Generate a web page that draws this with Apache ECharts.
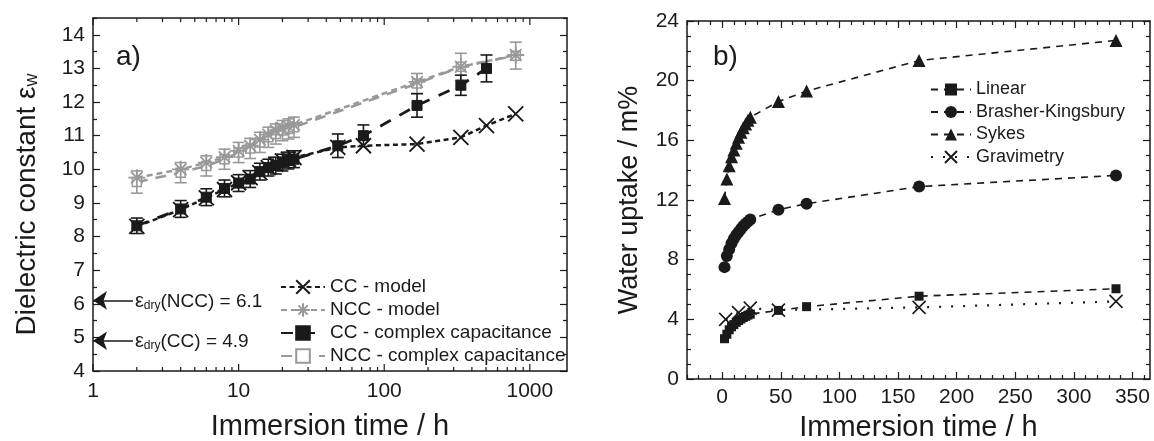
<!DOCTYPE html>
<html><head><meta charset="utf-8">
<script src="https://cdn.jsdelivr.net/npm/echarts@6/dist/echarts.min.js"></script>
<style>html,body{margin:0;padding:0;background:#fff}#c{width:1154px;height:441px}</style>
</head><body><div id="c"></div>
<script>
// ---------- Panel a data ----------
const ccModelTimes = [2,4,6,8,10,12,14,16,18,20,22,24,48,72,168,336,504,800];
const ccModel      = [8.3,8.8,9.15,9.4,9.6,9.75,9.9,10.05,10.15,10.25,10.3,10.35,10.65,10.7,10.75,10.95,11.3,11.65];
const ccCapTimes   = [2,4,6,8,10,12,14,16,18,20,22,24,48,72,168,336,504];
const ccCap        = [8.32,8.82,9.17,9.43,9.59,9.71,9.93,10.05,10.11,10.2,10.26,10.3,10.7,11.0,11.9,12.5,13.0];
const ccCapErr     = [0.23,0.25,0.25,0.25,0.25,0.25,0.25,0.25,0.25,0.25,0.25,0.25,0.35,0.32,0.35,0.3,0.4];
const nccTimes     = [2,4,6,8,10,12,14,16,18,20,22,24,168,336,800];
const nccModel     = [9.75,10.0,10.2,10.36,10.55,10.7,10.88,11.03,11.15,11.22,11.28,11.32,12.6,13.05,13.4];
const nccCap       = [9.62,9.9,10.1,10.3,10.5,10.62,10.8,10.95,11.05,11.15,11.2,11.25,12.55,13.05,13.38];
const nccCapErr    = [0.33,0.3,0.3,0.3,0.3,0.3,0.3,0.3,0.3,0.3,0.3,0.3,0.3,0.4,0.4];
const dryNCC = 6.1, dryCC = 4.9;
const aXMajor = [1,10,100,1000];
const aXMinor = [2,3,4,5,6,7,8,9,20,30,40,50,60,70,80,90,200,300,400,500,600,700,800,900];
const aYMajor = [4,5,6,7,8,9,10,11,12,13,14];
const aYMinor = [4.5,5.5,6.5,7.5,8.5,9.5,10.5,11.5,12.5,13.5,14.5];

// ---------- Panel b data ----------
const bTimes     = [2,4,6,8,10,12,14,16,18,20,22,24,48,72,168,336];
const linear     = [2.7,3.0,3.3,3.5,3.65,3.8,3.92,4.02,4.12,4.2,4.28,4.35,4.6,4.85,5.55,6.05];
const brasher    = [7.5,8.25,8.7,9.1,9.4,9.65,9.85,10.05,10.25,10.4,10.55,10.7,11.35,11.75,12.9,13.65];
const sykes      = [12.1,13.4,14.3,14.9,15.35,15.8,16.2,16.55,16.85,17.1,17.35,17.55,18.6,19.3,21.35,22.7];
const gravTimes  = [3,14,24,48,168,336];
const gravimetry = [4.0,4.45,4.75,4.62,4.8,5.2];
const bXMajor = [0,50,100,150,200,250,300,350];
const bXMinor = [-30,-20,-10,10,20,30,40,60,70,80,90,110,120,130,140,160,170,180,190,210,220,230,240,260,270,280,290,310,320,330,340,360];
const bYMajor = [0,4,8,12,16,20,24];
const bYMinor = [1,2,3,5,6,7,9,10,11,13,14,15,17,18,19,21,22,23];

const FONT = '"Liberation Sans", Arial, Helvetica, sans-serif';
const INK = '#1a1a1a';
const GREY = '#999999';
const X_PATH = 'path://M0,0L10,10M10,0L0,10';
const STAR_PATH = 'path://M5,0L5,10M0,5L10,5M1.6,1.6L8.4,8.4M8.4,1.6L1.6,8.4';
const A_XMIN = 1, A_XMAX = 1800, A_YMIN = 4, A_YMAX = 14.5;

function ax(grid, type, min, max, pos, ticks, len, labels, extra) {
  const o = {
    gridIndex: grid, type: type, min: min, max: max, position: pos,
    axisLine: {show: true, onZero: false, lineStyle: {color: INK, width: 1.5}},
    axisTick: ticks ? {show: true, inside: true, length: len, customValues: ticks, lineStyle: {color: INK, width: 1.2}} : {show: false},
    axisLabel: labels ? {show: true, customValues: labels, color: INK, fontFamily: FONT, fontSize: 21, margin: 8} : {show: false},
    splitLine: {show: false},
    axisPointer: {show: false},
    silent: true
  };
  if (type === 'log') o.logBase = 10;
  return Object.assign(o, extra || {});
}
const hiddenLine = {show: false, onZero: false};

const chart = echarts.init(document.getElementById('c'), null, {renderer: 'canvas'});

function errSeries(name, times, vals, errs, color, z) {
  return {
    type: 'custom', name: name, xAxisIndex: 0, yAxisIndex: 0, z: z, silent: true,
    data: times.map((t, i) => [t, vals[i] - errs[i], vals[i] + errs[i]]),
    renderItem: function (params, api) {
      const lo = api.coord([api.value(0), api.value(1)]);
      const hi = api.coord([api.value(0), api.value(2)]);
      const w = 6;
      const st = {stroke: color, lineWidth: 1.6};
      return {type: 'group', children: [
        {type: 'line', shape: {x1: lo[0], y1: lo[1], x2: hi[0], y2: hi[1]}, style: st},
        {type: 'line', shape: {x1: lo[0] - w, y1: lo[1], x2: lo[0] + w, y2: lo[1]}, style: st},
        {type: 'line', shape: {x1: hi[0] - w, y1: hi[1], x2: hi[0] + w, y2: hi[1]}, style: st}
      ]};
    }
  };
}

// tick marks of the log axis (bottom and top), placed through the log scale
const logTickData = aXMajor.map(v => [v, 1]).concat(aXMinor.map(v => [v, 0]));
const logTicks = {
  type: 'custom', name: 'logTicks', xAxisIndex: 0, yAxisIndex: 0, z: 10, silent: true, clip: false,
  data: logTickData,
  renderItem: function (params, api) {
    const v = api.value(0);
    const len = api.value(1) ? 7 : 4;
    const b = api.coord([v, A_YMIN]);
    const t = api.coord([v, A_YMAX]);
    const st = {stroke: INK, lineWidth: 1.2};
    return {type: 'group', children: [
      {type: 'line', shape: {x1: b[0], y1: b[1], x2: b[0], y2: b[1] - len}, style: st},
      {type: 'line', shape: {x1: t[0], y1: t[1], x2: t[0], y2: t[1] + len}, style: st}
    ]};
  }
};

const richLabel = {
  e: {fontSize: 20, fontFamily: FONT, color: INK, verticalAlign: 'bottom', lineHeight: 22},
  s: {fontSize: 12, fontFamily: FONT, color: INK, verticalAlign: 'bottom', lineHeight: 16},
  t: {fontSize: 19, fontFamily: FONT, color: INK, verticalAlign: 'bottom', lineHeight: 22}
};

const option = {
  animation: false,
  backgroundColor: '#ffffff',
  textStyle: {fontFamily: FONT},
  grid: [
    {left: 93, top: 18, width: 474, height: 353, outerBoundsMode: 'none', containLabel: false},
    {left: 687, top: 21, width: 463, height: 358, outerBoundsMode: 'none', containLabel: false}
  ],
  xAxis: [
    ax(0, 'log', A_XMIN, A_XMAX, 'bottom', null, 0, aXMajor, {
      axisLabel: {show: true, customValues: aXMajor, color: INK, fontFamily: FONT, fontSize: 21, margin: 10,
                  formatter: function (v) { return String(Math.round(v)); }},
      name: 'Immersion time / h', nameLocation: 'middle', nameGap: 41,
      nameTextStyle: {fontSize: 29, color: INK, fontFamily: FONT}}),
    ax(0, 'log', A_XMIN, A_XMAX, 'top', null, 0, null),
    ax(1, 'value', -30, 365, 'bottom', bXMajor, 7, bXMajor, {
      name: 'Immersion time / h', nameLocation: 'middle', nameGap: 34,
      nameTextStyle: {fontSize: 29, color: INK, fontFamily: FONT}}),
    ax(1, 'value', -30, 365, 'bottom', bXMinor, 4, null, {axisLine: hiddenLine}),
    ax(1, 'value', -30, 365, 'top', bXMajor, 7, null),
    ax(1, 'value', -30, 365, 'top', bXMinor, 4, null, {axisLine: hiddenLine})
  ],
  yAxis: [
    ax(0, 'value', A_YMIN, A_YMAX, 'left', aYMajor, 7, aYMajor, {
      name: '{m|Dielectric constant ε}{w|w}', nameLocation: 'middle', nameGap: 52,
      nameTextStyle: {padding: [0, 20, 0, 0], rich: {
        m: {fontSize: 28, color: INK, fontFamily: FONT, verticalAlign: 'bottom', lineHeight: 31},
        w: {fontSize: 18, color: INK, fontFamily: FONT, verticalAlign: 'bottom', lineHeight: 23}
      }}}),
    ax(0, 'value', A_YMIN, A_YMAX, 'left', aYMinor, 4, null, {axisLine: hiddenLine}),
    ax(0, 'value', A_YMIN, A_YMAX, 'right', aYMajor, 7, null),
    ax(0, 'value', A_YMIN, A_YMAX, 'right', aYMinor, 4, null, {axisLine: hiddenLine}),
    ax(1, 'value', 0, 24, 'left', bYMajor, 7, bYMajor, {
      name: 'Water uptake / m%', nameLocation: 'middle', nameGap: 44,
      nameTextStyle: {fontSize: 27, color: INK, fontFamily: FONT}}),
    ax(1, 'value', 0, 24, 'left', bYMinor, 4, null, {axisLine: hiddenLine}),
    ax(1, 'value', 0, 24, 'right', bYMajor, 7, null),
    ax(1, 'value', 0, 24, 'right', bYMinor, 4, null, {axisLine: hiddenLine})
  ],
  legend: [
    {
      data: ['CC - model', 'NCC - model', 'CC - complex capacitance', 'NCC - complex capacitance'],
      orient: 'vertical', left: 275, top: 272, itemWidth: 44, itemHeight: 17, itemGap: 3,
      selectedMode: false, textStyle: {fontSize: 19, lineHeight: 20, color: INK, fontFamily: FONT}
    },
    {
      data: ['Linear', 'Brasher-Kingsbury', 'Sykes', 'Gravimetry'],
      orient: 'vertical', left: 925, top: 75, itemWidth: 40, itemHeight: 15, itemGap: 3.5,
      selectedMode: false, textStyle: {fontSize: 18, lineHeight: 19, color: INK, fontFamily: FONT}
    }
  ],
  graphic: [
    {type: 'text', left: 116, top: 43, style: {text: 'a)', fontSize: 28, fontFamily: FONT, fill: INK}},
    {type: 'text', left: 713, top: 43, style: {text: 'b)', fontSize: 28, fontFamily: FONT, fill: INK}}
  ],
  series: [
    logTicks,
    errSeries('nccErr', nccTimes, nccCap, nccCapErr, GREY, 2),
    {
      type: 'line', name: 'NCC - complex capacitance', xAxisIndex: 0, yAxisIndex: 0, z: 3,
      data: nccTimes.map((t, i) => [t, nccCap[i]]),
      symbol: 'rect', symbolSize: 9, showAllSymbol: true,
      itemStyle: {color: '#ffffff', borderColor: GREY, borderWidth: 1.5},
      lineStyle: {color: GREY, width: 2.5, type: [11, 8]},
      emphasis: {disabled: true}
    },
    {
      type: 'line', name: 'NCC - model', xAxisIndex: 0, yAxisIndex: 0, z: 4,
      data: nccTimes.map((t, i) => [t, nccModel[i]]),
      symbol: STAR_PATH, symbolSize: 17, showAllSymbol: true,
      itemStyle: {color: 'rgba(0,0,0,0)', borderColor: GREY, borderWidth: 1.8},
      lineStyle: {color: GREY, width: 2.5, type: [6, 4]},
      emphasis: {disabled: true}
    },
    errSeries('ccErr', ccCapTimes, ccCap, ccCapErr, INK, 5),
    {
      type: 'line', name: 'CC - complex capacitance', xAxisIndex: 0, yAxisIndex: 0, z: 6,
      data: ccCapTimes.map((t, i) => [t, ccCap[i]]),
      symbol: 'rect', symbolSize: 10, showAllSymbol: true,
      itemStyle: {color: INK, borderColor: INK, borderWidth: 1},
      lineStyle: {color: INK, width: 2.8, type: [12, 10]},
      emphasis: {disabled: true}
    },
    {
      type: 'line', name: 'CC - model', xAxisIndex: 0, yAxisIndex: 0, z: 7,
      data: ccModelTimes.map((t, i) => [t, ccModel[i]]),
      symbol: X_PATH, symbolSize: 15, showAllSymbol: true,
      itemStyle: {color: 'rgba(0,0,0,0)', borderColor: INK, borderWidth: 1.9},
      lineStyle: {color: INK, width: 2.5, type: [5, 3.5]},
      emphasis: {disabled: true},
      markLine: {
        silent: true, symbol: ['arrow', 'none'], symbolSize: 14,
        lineStyle: {color: INK, width: 1.5, type: 'solid'},
        label: {show: true, position: 'end', distance: 2, formatter: function (p) { return p.name; }, rich: richLabel},
        emphasis: {disabled: true},
        data: [
          [{name: '{e|ε}{s|dry}{t|(NCC) = ' + dryNCC + '}', coord: [1, dryNCC]}, {coord: [1.88, dryNCC]}],
          [{name: '{e|ε}{s|dry}{t|(CC) = ' + dryCC + '}', coord: [1, dryCC]}, {coord: [1.88, dryCC]}]
        ]
      }
    },
    {
      type: 'line', name: 'Linear', xAxisIndex: 2, yAxisIndex: 4,
      data: bTimes.map((t, i) => [t, linear[i]]),
      symbol: 'rect', symbolSize: 9, showAllSymbol: true,
      itemStyle: {color: INK}, lineStyle: {color: INK, width: 1.6, type: [7, 6]},
      emphasis: {disabled: true}
    },
    {
      type: 'line', name: 'Brasher-Kingsbury', xAxisIndex: 2, yAxisIndex: 4,
      data: bTimes.map((t, i) => [t, brasher[i]]),
      symbol: 'circle', symbolSize: 12, showAllSymbol: true,
      itemStyle: {color: INK}, lineStyle: {color: INK, width: 1.6, type: [7, 6]},
      emphasis: {disabled: true}
    },
    {
      type: 'line', name: 'Sykes', xAxisIndex: 2, yAxisIndex: 4,
      data: bTimes.map((t, i) => [t, sykes[i]]),
      symbol: 'triangle', symbolSize: 13, showAllSymbol: true,
      itemStyle: {color: INK}, lineStyle: {color: INK, width: 1.6, type: [7, 6]},
      emphasis: {disabled: true}
    },
    {
      type: 'line', name: 'Gravimetry', xAxisIndex: 2, yAxisIndex: 4,
      data: gravTimes.map((t, i) => [t, gravimetry[i]]),
      symbol: X_PATH, symbolSize: 13, showAllSymbol: true,
      itemStyle: {color: 'rgba(0,0,0,0)', borderColor: INK, borderWidth: 1.6},
      lineStyle: {color: INK, width: 2.2, type: [2, 10]},
      emphasis: {disabled: true}
    }
  ]
};
chart.setOption(option);
</script>
</body></html>
